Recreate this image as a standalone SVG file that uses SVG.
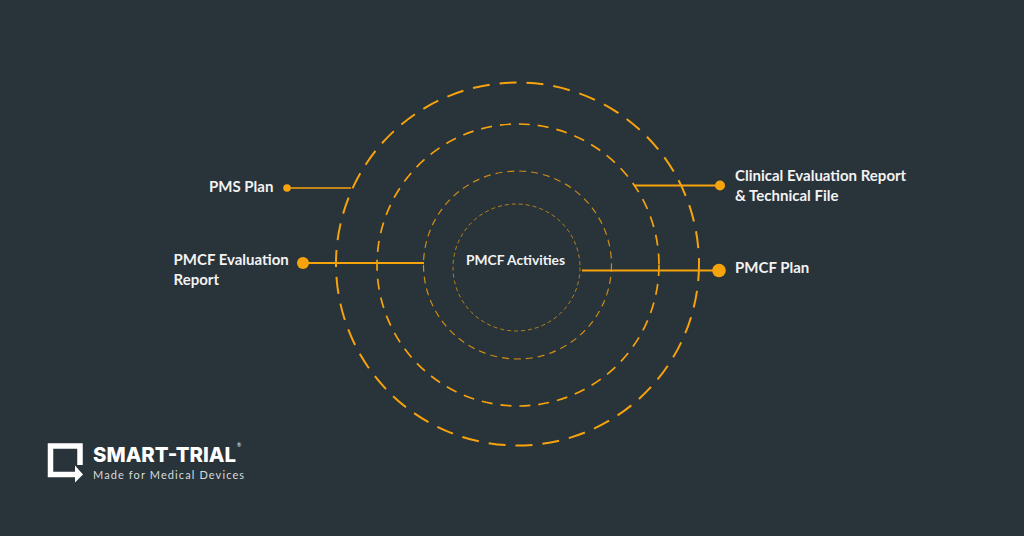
<svg xmlns="http://www.w3.org/2000/svg" width="1024" height="536" viewBox="0 0 1024 536">
<style>
.ring{fill:none;stroke:#f7a30c}
.ln{stroke:#f7a30c;fill:none}
.dot{fill:#f7a30c}
.t{font-family:Lato,"Liberation Sans",sans-serif;font-weight:700;font-size:15px;fill:#f2f2f2}
</style>
<rect width="1024" height="536" fill="#28333a"/>
<g id="rings">
<circle id="ring-1" class="ring" cx="517.500" cy="264" r="181.500" stroke-width="2" stroke-dasharray="17 10"/>
<circle id="ring-2" class="ring" cx="518" cy="265" r="141" stroke-width="1.700" stroke-dasharray="11 8"/>
<circle id="ring-3" class="ring" cx="517.500" cy="265" r="94" stroke-width="1.200" stroke-dasharray="7 5" opacity=".8"/>
<circle id="ring-4" class="ring" cx="516.500" cy="267.500" r="63.500" stroke-width="1" stroke-dasharray="4 3" opacity=".7"/>
</g>
<g id="connectors">
<path class="ln" stroke-width="1.600" d="M287 188H351"/>
<path class="ln" stroke-width="2" d="M303 263H424"/>
<path class="ln" stroke-width="2" d="M634 185.500H720"/>
<path class="ln" stroke-width="2.200" d="M582 270.500H719"/>
</g>
<g id="node-pms-plan"><circle class="dot" cx="287" cy="188" r="3.800"/><text class="t" x="209" y="192">PMS Plan</text></g>
<g id="node-pmcf-eval"><circle class="dot" cx="303" cy="263" r="6"/><text class="t" x="173.500" y="264.500">PMCF Evaluation</text><text class="t" x="173.500" y="285">Report</text></g>
<g id="node-cer"><circle class="dot" cx="720" cy="185.500" r="5"/><text class="t" x="735" y="180.500">Clinical Evaluation Report</text><text class="t" x="735" y="201">&amp; Technical File</text></g>
<g id="node-pmcf-plan"><circle class="dot" cx="719" cy="270.500" r="6.800"/><text class="t" x="735" y="273">PMCF Plan</text></g>
<g id="node-activities"><text class="t" x="515.500" y="264.500" text-anchor="middle" style="font-size:13.800px">PMCF Activities</text></g>
<g id="logo">
<path fill="none" stroke="#fff" stroke-width="5.500" d="M80 465V446H50.500V474.500H77"/>
<polygon fill="#fff" points="75,465.500 83,474.500 75,482.500"/>
<text x="93" y="461.500" font-family="Inter,'Liberation Sans',sans-serif" font-weight="800" font-size="20.500" fill="#fff" textLength="143" lengthAdjust="spacingAndGlyphs">SMART-TRIAL</text>
<text x="237" y="447" font-family="Lato,'Liberation Sans',sans-serif" font-size="5" fill="#fff">®</text>
<text x="93" y="479" font-family="Lato,'Liberation Sans',sans-serif" font-size="11" fill="#d8dbdd" textLength="152" letter-spacing=".9">Made for Medical Devices</text>
</g>
</svg>
